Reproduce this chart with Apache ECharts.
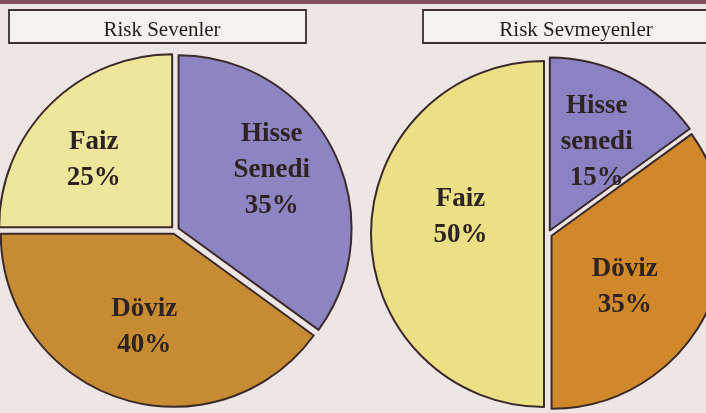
<!DOCTYPE html>
<html>
<head>
<meta charset="utf-8">
<script src="https://cdn.jsdelivr.net/npm/echarts@6/dist/echarts.min.js"></script>
<style>
  html, body { margin: 0; padding: 0; background: #ede6e4; }
  #main { width: 706px; height: 413px; }
</style>
</head>
<body>
<div id="main"></div>
<script>
// data
const titles = ['Risk Sevenler', 'Risk Sevmeyenler'];
const leftNames = ['Hisse Senedi', 'Döviz', 'Faiz'];
const leftValues = [35, 40, 25];
const rightNames = ['Hisse senedi', 'Döviz', 'Faiz'];
const rightValues = [15, 35, 50];

const colors = {
  'Hisse': '#8d85c1',
  'Döviz': '#c78c33',
  'Faiz': '#eee79b'
};
const rightColors = {
  'Hisse': '#8a82c2',
  'Döviz': '#d0882b',
  'Faiz': '#ebe085'
};
// label nudges (from the default inside spot) so text sits like the print
const leftOffsets = [[17, -19], [-3, 12], [-18, -7]];
const rightOffsets = [[8, -12], [-3, 12], [2, -17]];

const chart = echarts.init(document.getElementById('main'), null, { renderer: 'canvas' });

const sliceBorder = { borderColor: '#3a2a2a', borderWidth: 2 };
const labelStyle = {
  show: true,
  position: 'inside',
  fontFamily: 'Liberation Serif',
  fontWeight: 'bold',
  fontSize: 27,
  lineHeight: 36,
  color: '#2d2322',
  formatter: function (p) {
    return p.name.replace(' ', '\n') + '\n' + p.value + '%';
  }
};

// the slices, slightly pulled apart
function pieSeries(center, names, values, palette) {
  return {
    type: 'pie',
    center: center,
    radius: 173,
    startAngle: 90,
    clockwise: true,
    selectedMode: 'multiple',
    selectedOffset: 4,
    silent: true,
    animation: false,
    itemStyle: sliceBorder,
    select: { itemStyle: sliceBorder, label: { show: false } },
    emphasis: { disabled: true },
    label: { show: false },
    labelLine: { show: false },
    data: names.map(function (n, i) {
      return { name: n, value: values[i], selected: true, itemStyle: { color: palette[n.split(' ')[0]] } };
    })
  };
}

// same pie, see-through, only carries the text
function labelSeries(center, names, values, offsets) {
  return {
    type: 'pie',
    center: center,
    radius: 173,
    startAngle: 90,
    clockwise: true,
    silent: true,
    animation: false,
    z: 5,
    avoidLabelOverlap: false,
    itemStyle: { color: 'rgba(0,0,0,0)', borderWidth: 0 },
    emphasis: { disabled: true },
    label: labelStyle,
    labelLine: { show: false },
    data: names.map(function (n, i) {
      return { name: n, value: values[i], label: { offset: offsets[i] } };
    })
  };
}

chart.setOption({
  backgroundColor: '#ede6e4',
  animation: false,
  title: [
    {
      text: titles[0], left: 157, top: 15, textAlign: 'center',
      textStyle: { fontFamily: 'Liberation Serif', fontWeight: 'normal', fontSize: 21, color: '#241c1c' }
    },
    {
      text: titles[1], left: 571, top: 15, textAlign: 'center',
      textStyle: { fontFamily: 'Liberation Serif', fontWeight: 'normal', fontSize: 21, color: '#241c1c' }
    }
  ],
  graphic: [
    { type: 'rect', shape: { x: 0, y: 0, width: 706, height: 4 }, style: { fill: '#85505e' }, z: 0 },
    { type: 'rect', shape: { x: 9, y: 10, width: 297, height: 33 },
      style: { fill: '#f5f1ef', stroke: '#3a3030', lineWidth: 1.8 }, z: 0 },
    { type: 'rect', shape: { x: 423, y: 10, width: 300, height: 33 },
      style: { fill: '#f5f1ef', stroke: '#3a3030', lineWidth: 1.8 }, z: 0 }
  ],
  series: [
    pieSeries([175, 230], leftNames, leftValues, colors),
    pieSeries([548, 234], rightNames, rightValues, rightColors),
    labelSeries([175, 230], leftNames, leftValues, leftOffsets),
    labelSeries([548, 234], rightNames, rightValues, rightOffsets)
  ]
});
</script>
</body>
</html>
